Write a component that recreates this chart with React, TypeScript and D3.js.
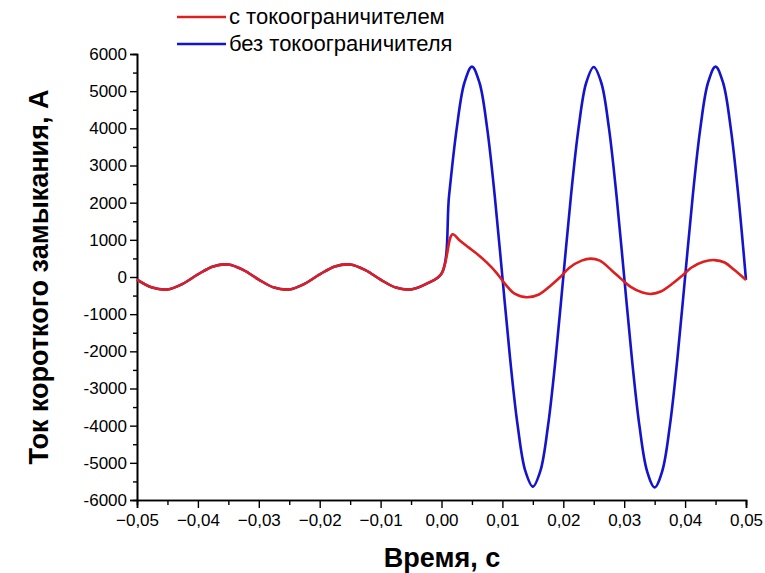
import React, { useEffect, useRef } from "react"
import * as d3 from "d3"

const width = 765
const height = 573

// время, с
const timePre = [
  -0.05, -0.0475, -0.045, -0.0425, -0.04, -0.0375, -0.035, -0.0325, -0.03, -0.0275,
  -0.025, -0.0225, -0.02, -0.0175, -0.015, -0.0125, -0.01, -0.0075, -0.005, -0.0025,
]
// ток до КЗ (одинаковый для обеих кривых), А
const currentPre = [
  -70, -285, -335, -185, 70, 285, 335, 185, -70, -285,
  -335, -185, 70, 285, 335, 185, -70, -285, -335, -185,
]

const timeLimited = [
  0, 0.0018, 0.003, 0.0045, 0.006, 0.0075, 0.009, 0.0105, 0.012, 0.014,
  0.016, 0.018, 0.0195, 0.021, 0.023, 0.0245, 0.026, 0.028, 0.0295, 0.031,
  0.033, 0.0345, 0.036, 0.038, 0.0395, 0.041, 0.043, 0.0448, 0.0465, 0.048, 0.05,
]
const currentLimited = [
  90, 1150, 980, 790, 600, 380, 120, -200, -450, -545,
  -470, -220, 0, 250, 440, 495, 440, 170, -50, -260,
  -420, -455, -390, -170, 30, 250, 410, 455, 390, 200, -80,
]

const timeFull = [
  0, 0.00125, 0.0025, 0.00375, 0.005, 0.00625, 0.0075, 0.00875, 0.01, 0.01125,
  0.0125, 0.01375, 0.015, 0.01625, 0.0175, 0.01875, 0.02, 0.02125, 0.0225, 0.02375,
  0.025, 0.02625, 0.0275, 0.02875, 0.03, 0.03125, 0.0325, 0.03375, 0.035, 0.03625,
  0.0375, 0.03875, 0.04, 0.04125, 0.0425, 0.04375, 0.045, 0.04625, 0.0475, 0.04875, 0.05,
]
const currentFull = [
  90, 2200, 4000, 5220, 5660, 5220, 4000, 2170, 0, -2170,
  -3990, -5210, -5640, -5210, -3990, -2170, 0, 2170, 4000, 5220,
  5650, 5220, 4000, 2170, 0, -2170, -4000, -5220, -5660, -5220,
  -4000, -2170, 0, 2170, 4000, 5220, 5660, 5220, 4000, 2170, -80,
]

const xTicks = [-0.05, -0.04, -0.03, -0.02, -0.01, 0, 0.01, 0.02, 0.03, 0.04, 0.05]
const yTicks = [-6000, -5000, -4000, -3000, -2000, -1000, 0, 1000, 2000, 3000, 4000, 5000, 6000]

const seriesNames = ["с токоограничителем", "без токоограничителя"]
const seriesColors = ["#dd1f1f", "#1414cc"]

const x = d3.scaleLinear().domain([-0.05, 0.05]).range([137, 746])
const y = d3.scaleLinear().domain([-6000, 6000]).range([500, 54])

const font = "'Liberation Sans', Arial, sans-serif"

const makeLine = (ts: number[], vs: number[]) => {
  const pts: [number, number][] = []
  timePre.forEach((t, i) => pts.push([t, currentPre[i]]))
  ts.forEach((t, i) => pts.push([t, vs[i]]))
  return d3
    .line<[number, number]>()
    .x(d => x(d[0]))
    .y(d => y(d[1]))
    .curve(d3.curveCatmullRom.alpha(0.5))(pts)
}

const App = () => {
  const xRef = useRef<SVGGElement>(null)
  const yRef = useRef<SVGGElement>(null)

  useEffect(() => {
    const minorX = d3.range(-0.045, 0.05, 0.01)
    const minorY = d3.range(-5500, 6000, 1000)

    const gx = d3.select(xRef.current)
    gx.selectAll("*").remove()
    gx.append("g").call(
      d3.axisBottom(x).tickValues(minorX).tickSize(5).tickFormat(() => "")
    )
    gx.append("g").call(
      d3
        .axisBottom(x)
        .tickValues(xTicks)
        .tickSize(8)
        .tickPadding(6)
        .tickFormat(d => d3.format(".2f")(d as number).replace(".", ","))
    )

    const gy = d3.select(yRef.current)
    gy.selectAll("*").remove()
    gy.append("g").call(
      d3.axisLeft(y).tickValues(minorY).tickSize(4).tickFormat(() => "")
    )
    gy.append("g").call(
      d3.axisLeft(y).tickValues(yTicks).tickSize(7).tickPadding(3).tickFormat(d => String(d))
    )

    ;[gx, gy].forEach(g => {
      g.selectAll(".domain").attr("stroke", "#000").attr("stroke-width", 1.6)
      g.selectAll(".tick line").attr("stroke", "#000").attr("stroke-width", 1.4)
      g.selectAll(".tick text")
        .attr("fill", "#000")
        .style("font-family", font)
        .style("font-size", "17px")
    })
  }, [])

  return (
    <svg
      width={width}
      height={height}
      style={{ position: "absolute", left: 0, top: 0, background: "#fff" }}
    >
      <rect width={width} height={height} fill="#fff" />
      <g ref={xRef} transform={`translate(0,${y(-6000)})`} />
      <g ref={yRef} transform={`translate(${x(-0.05)},0)`} />

      <path
        d={makeLine(timeFull, currentFull) ?? ""}
        fill="none"
        stroke={seriesColors[1]}
        strokeWidth={2.6}
      />
      <path
        d={makeLine(timeLimited, currentLimited) ?? ""}
        fill="none"
        stroke={seriesColors[0]}
        strokeWidth={2.6}
      />

      {seriesNames.map((name, i) => (
        <g key={name} transform={`translate(177,${17 + i * 27})`}>
          <line x1={0} x2={49} y1={0} y2={0} stroke={seriesColors[i]} strokeWidth={2.6} />
          <text x={52} y={7} fontFamily={font} fontSize={22} fill="#000">
            {name}
          </text>
        </g>
      ))}

      <text
        transform={`translate(48,${y(0)}) rotate(-90)`}
        textAnchor="middle"
        fontFamily={font}
        fontWeight="bold"
        fontSize={27}
        fill="#000"
      >
        Ток короткого замыкания, А
      </text>
      <text
        x={442}
        y={567}
        textAnchor="middle"
        fontFamily={font}
        fontWeight="bold"
        fontSize={27}
        fill="#000"
      >
        Время, с
      </text>
    </svg>
  )
}

export default App
